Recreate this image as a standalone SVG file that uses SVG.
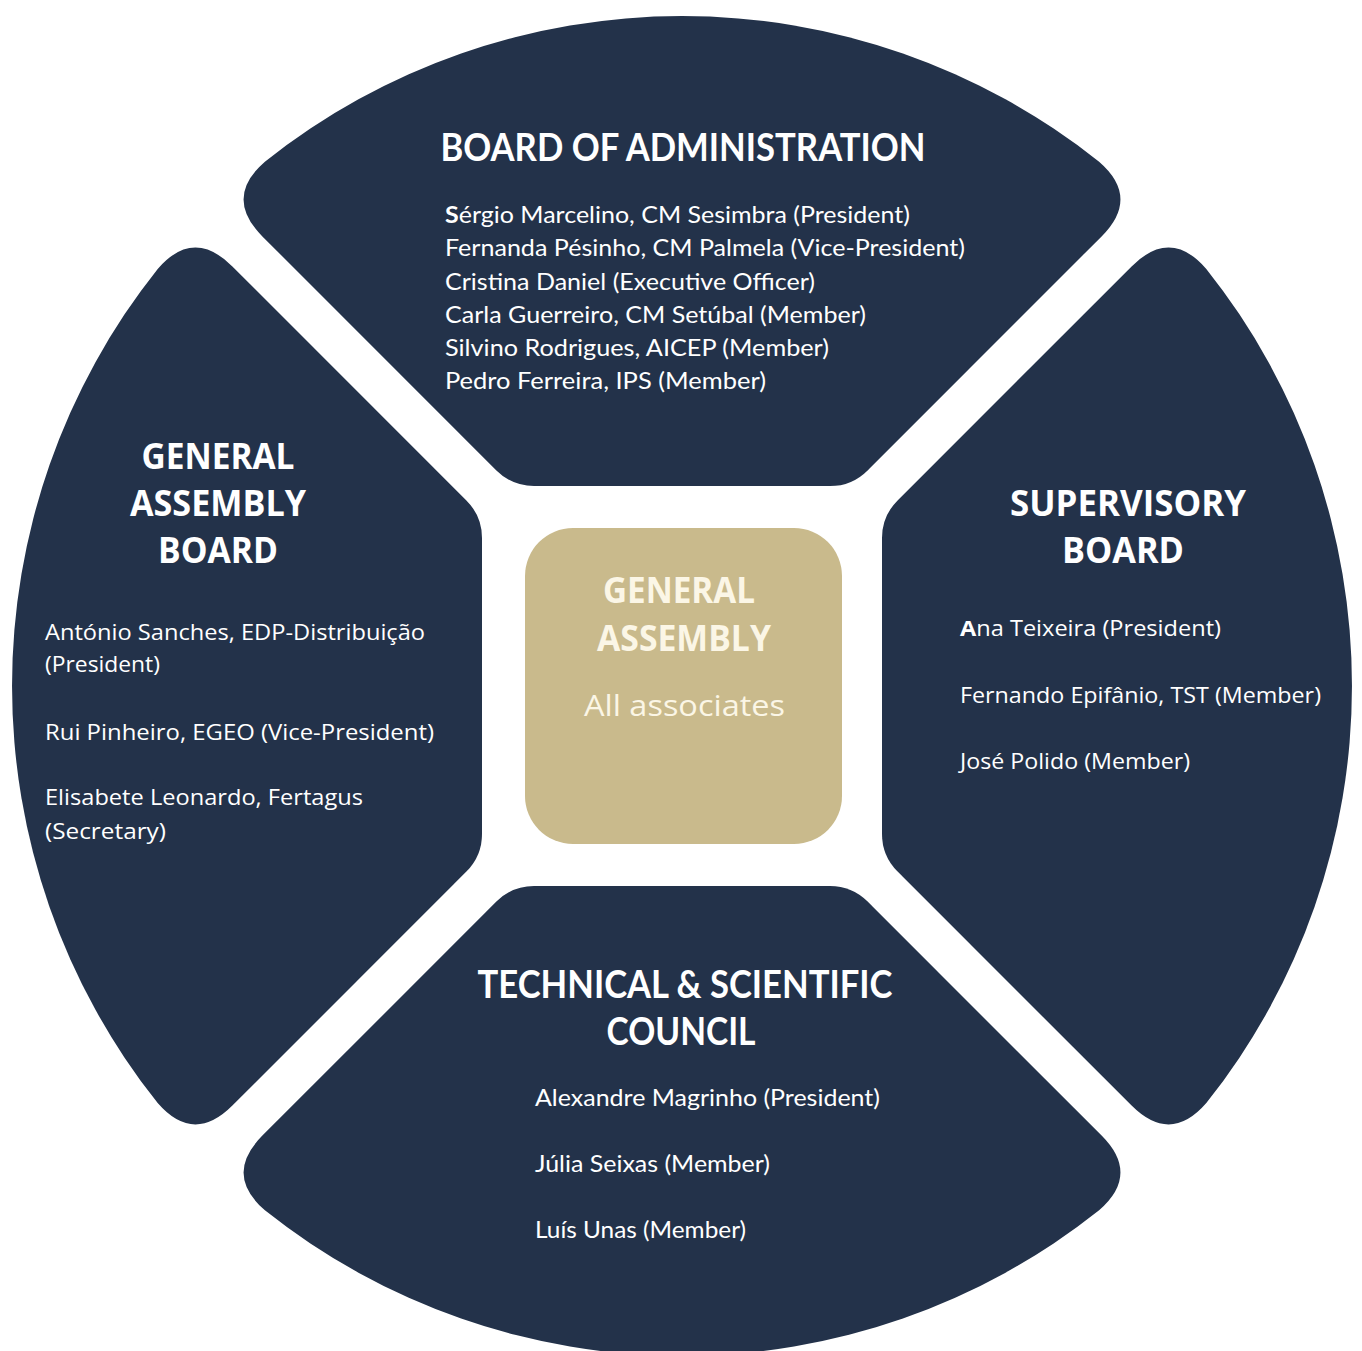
<svg xmlns="http://www.w3.org/2000/svg" xmlns:xlink="http://www.w3.org/1999/xlink" width="1362" height="1351" viewBox="0 0 1362 1351">
  <style>
    .seg { fill: #23324A; }
    .core { fill: #C9BA8C; }
    text { fill: #FFFFFF; }
    .hw { font-family: "Open Sans", "DejaVu Sans", sans-serif; font-weight: 700; font-size: 36px; text-anchor: middle; }
    .hn { font-family: "Lato", "Liberation Sans", sans-serif; font-weight: 700; font-size: 38px; text-anchor: middle; }
    .bw { font-family: "Open Sans", "DejaVu Sans", sans-serif; font-weight: 400; font-size: 21px; }
    .bn { font-family: "Lato", "Liberation Sans", sans-serif; font-weight: 400; font-size: 23px; }
    .b { font-weight: 700; }
    .ch { fill: #FBF6E6; }
  </style>
  <defs>
    <path id="seg" d="M-417.1,-524.3 A670,670 0 0 1 417.1,-524.3 Q458.5,-488.5 419.6,-449.6 L185.6,-215.6 Q170,-200 148,-200 L-148,-200 Q-170,-200 -185.6,-215.6 L-419.6,-449.6 Q-458.5,-488.5 -417.1,-524.3 Z"/>
  </defs>
  <rect width="1362" height="1351" fill="#FFFFFF"/>

  <g id="board-of-administration">
    <use xlink:href="#seg" href="#seg" class="seg" transform="translate(682,686)"/>
    <text class="hn" x="683" y="161" textLength="485" lengthAdjust="spacingAndGlyphs">BOARD OF ADMINISTRATION</text>
    <text class="bn" x="445" y="223" textLength="465" lengthAdjust="spacingAndGlyphs"><tspan class="b">S</tspan>érgio Marcelino, CM Sesimbra (President)</text>
    <text class="bn" x="445" y="256" textLength="520" lengthAdjust="spacingAndGlyphs">Fernanda Pésinho, CM Palmela (Vice-President)</text>
    <text class="bn" x="445" y="290" textLength="370" lengthAdjust="spacingAndGlyphs">Cristina Daniel (Executive Officer)</text>
    <text class="bn" x="445" y="323" textLength="421" lengthAdjust="spacingAndGlyphs">Carla Guerreiro, CM Setúbal (Member)</text>
    <text class="bn" x="445" y="356" textLength="384" lengthAdjust="spacingAndGlyphs">Silvino Rodrigues, AICEP (Member)</text>
    <text class="bn" x="445" y="389" textLength="321" lengthAdjust="spacingAndGlyphs">Pedro Ferreira, IPS (Member)</text>
  </g>

  <g id="general-assembly-board">
    <use xlink:href="#seg" href="#seg" class="seg" transform="translate(682,686) rotate(-90)"/>
    <text class="hw" x="218" y="469" textLength="153" lengthAdjust="spacingAndGlyphs">GENERAL</text>
    <text class="hw" x="218" y="516" textLength="176" lengthAdjust="spacingAndGlyphs">ASSEMBLY</text>
    <text class="hw" x="218" y="563" textLength="120" lengthAdjust="spacingAndGlyphs">BOARD</text>
    <text class="bw" x="45" y="640" textLength="380" lengthAdjust="spacingAndGlyphs">António Sanches, EDP-Distribuição</text>
    <text class="bw" x="45" y="672" textLength="115" lengthAdjust="spacingAndGlyphs">(President)</text>
    <text class="bw" x="45" y="740" textLength="389" lengthAdjust="spacingAndGlyphs">Rui Pinheiro, EGEO (Vice-President)</text>
    <text class="bw" x="45" y="805" textLength="318" lengthAdjust="spacingAndGlyphs">Elisabete Leonardo, Fertagus</text>
    <text class="bw" x="45" y="839" textLength="121" lengthAdjust="spacingAndGlyphs">(Secretary)</text>
  </g>

  <g id="supervisory-board">
    <use xlink:href="#seg" href="#seg" class="seg" transform="translate(682,686) rotate(90)"/>
    <text class="hw" x="1128" y="516" textLength="236" lengthAdjust="spacingAndGlyphs">SUPERVISORY</text>
    <text class="hw" x="1123" y="563" textLength="122" lengthAdjust="spacingAndGlyphs">BOARD</text>
    <text class="bw" x="960" y="636" textLength="261" lengthAdjust="spacingAndGlyphs"><tspan class="b">A</tspan>na Teixeira (President)</text>
    <text class="bw" x="960" y="703" textLength="361" lengthAdjust="spacingAndGlyphs">Fernando Epifânio, TST (Member)</text>
    <text class="bw" x="960" y="769" textLength="230" lengthAdjust="spacingAndGlyphs">José Polido (Member)</text>
  </g>

  <g id="technical-scientific-council">
    <use xlink:href="#seg" href="#seg" class="seg" transform="translate(682,686) rotate(180)"/>
    <text class="hn" x="685" y="998" textLength="415" lengthAdjust="spacingAndGlyphs">TECHNICAL &amp; SCIENTIFIC</text>
    <text class="hn" x="681" y="1045" textLength="149" lengthAdjust="spacingAndGlyphs">COUNCIL</text>
    <text class="bn" x="535" y="1106" textLength="345" lengthAdjust="spacingAndGlyphs">Alexandre Magrinho (President)</text>
    <text class="bn" x="535" y="1172" textLength="235" lengthAdjust="spacingAndGlyphs">Júlia Seixas (Member)</text>
    <text class="bn" x="535" y="1238" textLength="211" lengthAdjust="spacingAndGlyphs">Luís Unas (Member)</text>
  </g>

  <g id="general-assembly">
    <rect class="core" x="525" y="528" width="317" height="316" rx="48" ry="48"/>
    <text class="hw ch" x="679" y="603" textLength="152" lengthAdjust="spacingAndGlyphs">GENERAL</text>
    <text class="hw ch" x="684" y="651" textLength="174" lengthAdjust="spacingAndGlyphs">ASSEMBLY</text>
    <text class="ch" x="684.5" y="716" font-family="'Open Sans', 'DejaVu Sans', sans-serif" font-size="30" text-anchor="middle" textLength="201" lengthAdjust="spacingAndGlyphs">All associates</text>
  </g>

  <g id="connectors"/>
</svg>
